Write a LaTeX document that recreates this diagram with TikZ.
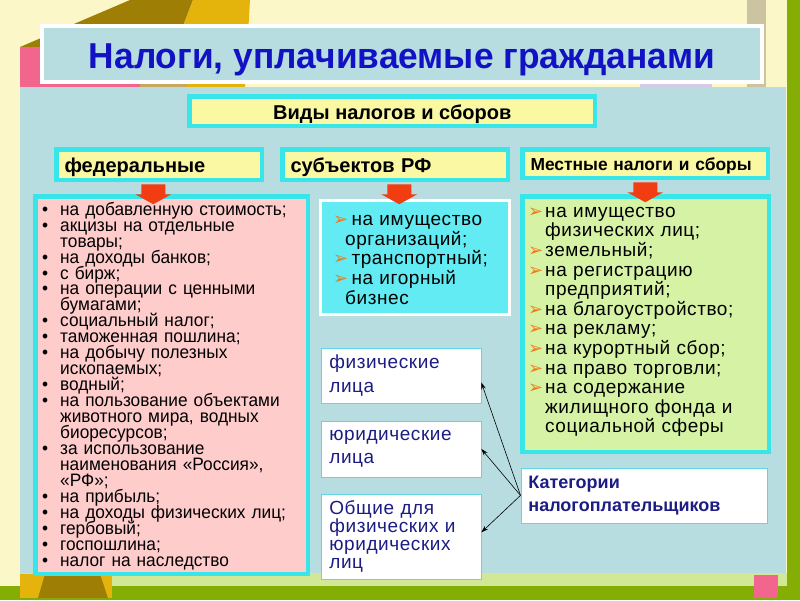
\documentclass[tikz,border=0pt]{standalone}
\usepackage{fontspec}
\setmainfont{Liberation Sans}
\newfontfamily\titlefont[FakeStretch=0.98]{Liberation Sans}
\newfontfamily\narrowfont[FakeStretch=0.96]{Liberation Sans}
\newfontfamily\spfont[LetterSpace=3]{Liberation Sans}
\newfontfamily\djv{DejaVu Sans}
\usetikzlibrary{arrows.meta,calc}
\definecolor{cream}{HTML}{FBF7C9}
\definecolor{panel}{HTML}{B8DDE1}
\definecolor{cyanb}{HTML}{38E6EA}
\definecolor{yel}{HTML}{FAF8A2}
\definecolor{pinkf}{HTML}{FFCCCC}
\definecolor{greenf}{HTML}{D6F2A4}
\definecolor{cyanf}{HTML}{62EBF2}
\definecolor{redar}{HTML}{F23C12}
\definecolor{titleblue}{HTML}{1212C4}
\definecolor{navy}{HTML}{1C1C84}
\definecolor{olive}{HTML}{9E7E04}
\definecolor{gold}{HTML}{E4B40C}
\definecolor{tan}{HTML}{C8A860}
\definecolor{pinkd}{HTML}{F2668E}
\definecolor{grn}{HTML}{84AE04}
\definecolor{lgrn}{HTML}{D2E896}
\definecolor{beige}{HTML}{CCC4A0}
\definecolor{lav}{HTML}{D4CCE8}
\definecolor{bul}{HTML}{F07A1A}
\definecolor{thinc}{HTML}{5ED6E6}
\newcommand\tightls{\lineskiplimit=-100pt\relax}
\newcommand\fbul{\makebox[18pt][l]{•}}
\newcommand\fcn{\hspace*{18pt}}
\newcommand\mbul{\makebox[12pt][l]{\djv\fontsize{18}{18}\selectfont\color{bul}➢}}
\newcommand\mcn{\hspace*{12pt}}
\newcommand\rbul{\makebox[17pt][l]{\djv\fontsize{18}{18}\selectfont\color{bul}➢}}
\newcommand\rcn{\hspace*{17pt}}
\tikzset{
  cbox/.style={draw=cyanb, line width=4.5pt, inner sep=0pt, anchor=north west},
  catbox/.style={draw=cyanb, line width=4.5pt, fill=yel, anchor=north west, inner xsep=8pt, inner ysep=0pt, align=left, font=\bfseries\fontsize{20}{22}\selectfont},
  wbox/.style={draw=thinc, line width=0.8pt, fill=white, anchor=north west, inner xsep=8.5pt, inner ysep=0pt, align=left, text=navy},
  listtxt/.style={anchor=north west, inner sep=0pt, align=left},
  redarrow/.style={fill=redar},
  conn/.style={-{Stealth[length=7pt,width=4.5pt]}, line width=0.6pt, black}
}
\begin{document}
\begin{tikzpicture}[x=1pt,y=-1pt]
\useasboundingbox (0,0) rectangle (800,600);
% background
\fill[cream] (0,0) rectangle (800,600);
\fill[olive] (20,47) -- (130,0) -- (193,0) -- (175,47) -- cycle;
\fill[gold] (193,0) -- (250,0) -- (245,87) -- (140,87) -- (175,47) -- cycle;
\fill[pinkd] (20,47) rectangle (140,87);
\fill[tan] (140,80) rectangle (187,87);
\fill[lav] (640,78) rectangle (712,87);
\fill[beige] (747,0) rectangle (766,87);
\fill[grn] (787,0) rectangle (800,600);
\fill[panel] (20,87) rectangle (786,573);
\fill[lgrn] (20,573) rectangle (787,586);
\fill[grn] (0,586) rectangle (800,600);
\fill[gold] (20,574) rectangle (112,598);
\fill[olive] (45,574) -- (100,574) -- (108,598) -- (38,598) -- cycle;
\fill[pinkd] (754,575) rectangle (778,598);
% title
\node[draw=white, line width=4pt, fill=panel, anchor=north west, minimum width=720, minimum height=56,
  inner sep=0pt, text height=28pt, text depth=0pt, text=titleblue, font=\titlefont\bfseries\fontsize{36}{40}\selectfont]
  (title) at (40,24) {Налоги, уплачиваемые гражданами};
% kinds
\node[draw=cyanb, line width=4.5pt, fill=yel, anchor=north west, minimum width=405.5, minimum height=29.5,
  inner sep=0pt, text height=16pt, text depth=0pt, font=\bfseries\fontsize{20}{22}\selectfont]
  (vid) at (187.25,94.25) {Виды налогов и сборов};
\node[catbox, minimum width=205.5, minimum height=30.5, text width=189.5pt, text height=15pt, text depth=0pt] (fed) at (54.25,147.25) {федеральные};
\node[catbox, minimum width=225.5, minimum height=30.5, text width=209.5pt, text height=15pt, text depth=0pt] (subj) at (280.25,147.25) {субъектов РФ};
\node[catbox, minimum width=245.5, minimum height=28.5, text width=229.5pt, text height=13pt, text depth=0pt,
  font=\bfseries\fontsize{17.4}{20}\selectfont] (mest) at (520.25,147.25) {Местные налоги и сборы};
% list boxes
\node[cbox, fill=pinkf, minimum width=272.5, minimum height=377.5] (fedlist) at (33.25,194.25) {};
\node[draw=white, line width=3pt, fill=cyanf, anchor=north west, inner sep=0pt, minimum width=189, minimum height=114] (subjlist) at (318.5,198.5) {};
\node[cbox, fill=greenf, minimum width=246.5, minimum height=255.5] (mestlist) at (520.25,194.25) {};
% red arrows
\fill[redarrow] ($(fed.south)+(-18,2)$) -- ++(24,0) -- ++(0,10) -- ++(6,0) -- ++(-18,10) -- ++(-18,-10) -- ++(6,0) -- cycle;
\fill[redarrow] ($(subj.south)+(-8,2)$) -- ++(24,0) -- ++(0,10) -- ++(6,0) -- ++(-18,10) -- ++(-18,-10) -- ++(6,0) -- cycle;
\fill[redarrow] ($(mest.south)+(-12,2)$) -- ++(24,0) -- ++(0,10) -- ++(6,0) -- ++(-18,10) -- ++(-18,-10) -- ++(6,0) -- cycle;
% list texts
\node[listtxt, text width=265pt, font=\narrowfont\fontsize{18}{15.95}\selectfont\tightls] (fedtxt) at (42,200) {%
\rule{0pt}{15pt}\fbul на добавленную стоимость;\\
\fbul акцизы на отдельные\\
\fcn товары;\\
\fbul на доходы банков;\\
\fbul с бирж;\\
\fbul на операции с ценными\\
\fcn бумагами;\\
\fbul социальный налог;\\
\fbul таможенная пошлина;\\
\fbul на добычу полезных\\
\fcn ископаемых;\\
\fbul водный;\\
\fbul на пользование объектами\\
\fcn животного мира, водных\\
\fcn биоресурсов;\\
\fbul за использование\\
\fcn наименования «Россия»,\\
\fcn «РФ»;\\
\fbul на прибыль;\\
\fbul на доходы физических лиц;\\
\fbul гербовый;\\
\fbul госпошлина;\\
\fbul налог на наследство};
\node[listtxt, text width=180pt, font=\spfont\fontsize{19}{19.8}\selectfont\tightls] (subjtxt) at (333,210) {%
\rule{0pt}{15pt}\mbul{} на имущество\\
\mcn организаций;\\
\mbul{} транспортный;\\
\mbul{} на игорный\\
\mcn бизнес};
\node[listtxt, text width=240pt, font=\spfont\fontsize{19}{19.6}\selectfont\tightls] (mesttxt) at (528,202) {%
\rule{0pt}{15pt}\rbul на имущество\\
\rcn физических лиц;\\
\rbul земельный;\\
\rbul на регистрацию\\
\rcn предприятий;\\
\rbul на благоустройство;\\
\rbul на рекламу;\\
\rbul на курортный сбор;\\
\rbul на право торговли;\\
\rbul на содержание\\
\rcn жилищного фонда и\\
\rcn социальной сферы};
% payer categories
\node[wbox, minimum width=160, minimum height=55, text width=143pt, font=\spfont\fontsize{19}{24}\selectfont] (fiz) at (320.5,347.5) {физические\\лица};
\node[wbox, minimum width=160, minimum height=56, text width=143pt, font=\spfont\fontsize{19}{23}\selectfont] (yur) at (320.5,420.5) {юридические\\лица};
\node[wbox, minimum width=160, minimum height=85, text width=143pt, font=\spfont\fontsize{19}{17.7}\selectfont\tightls] (obsh) at (320.5,493.5) {Общие для\\физических и\\юридических\\лиц};
\node[wbox, minimum width=246, minimum height=55, inner xsep=7.5pt, text width=231pt, font=\bfseries\fontsize{18}{23}\selectfont] (kat) at (520.5,467.5) {Категории\\налогоплательщиков};
\draw[conn] (kat.west) -- ([yshift=-7pt]fiz.east);
\draw[conn] (kat.west) -- (yur.east);
\draw[conn] (kat.west) -- ([yshift=4pt]obsh.east);
\end{tikzpicture}
\end{document}
